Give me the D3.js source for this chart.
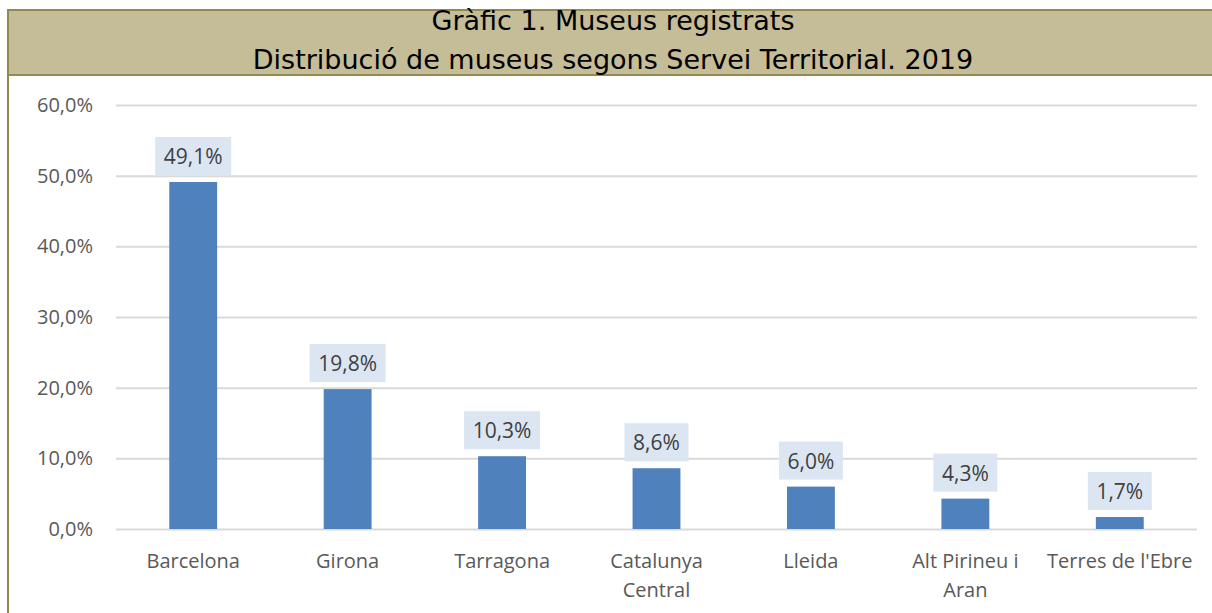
<!DOCTYPE html>
<meta charset="utf-8">
<html>
<head>
    <style>
        body { margin: 0; background: #fff; }
        .tick text { font: 20px "Open Sans", sans-serif; fill: #595959; }
        .grid line { stroke: #d9d9d9; stroke-width: 2px; }
        .title { font: 27px "DejaVu Sans", Verdana, sans-serif; fill: #000; }
        .label text { font: 21px "Open Sans", sans-serif; fill: #404040; }
    </style>
    <script src="https://d3js.org/d3.v7.min.js"></script>
</head>
<body>
<svg id="svg" width="1212" height="613"></svg>
<script>

    var categories = ["Barcelona", "Girona", "Tarragona", "Catalunya Central", "Lleida", "Alt Pirineu i Aran", "Terres de l'Ebre"];
    var catLines = [["Barcelona"], ["Girona"], ["Tarragona"], ["Catalunya", "Central"], ["Lleida"], ["Alt Pirineu i", "Aran"], ["Terres de l'Ebre"]];
    var values = [49.1, 19.8, 10.3, 8.6, 6.0, 4.3, 1.7];
    var yTicks = [0, 10, 20, 30, 40, 50, 60];
    var titleLines = ["Gràfic 1. Museus registrats", "Distribució de museus segons Servei Territorial. 2019"];

    var svg = d3.select("svg");
    var fmt = function (v) { return v.toFixed(1).replace(".", ",") + "%"; };

    // frame + header
    svg.append("rect").attr("x", 8).attr("y", 10).attr("width", 1212).attr("height", 65)
        .attr("fill", "#c4bd97").attr("stroke", "#938953").attr("stroke-width", 2);
    svg.append("line").attr("x1", 8).attr("x2", 8).attr("y1", 10).attr("y2", 613)
        .attr("stroke", "#938953").attr("stroke-width", 2);

    svg.selectAll(".title").data(titleLines).enter().append("text")
        .attr("class", "title")
        .attr("x", 613).attr("y", function (d, i) { return 30 + i * 39; })
        .attr("text-anchor", "middle")
        .text(function (d) { return d; });

    var x = d3.scaleBand().domain(categories).range([116, 1197]).paddingInner(0.69).paddingOuter(0.345);
    var y = d3.scaleLinear().domain([0, 60]).range([529, 105]);

    svg.append("g").attr("class", "grid")
        .attr("transform", "translate(116,0)")
        .call(d3.axisLeft(y).tickValues(yTicks).tickSize(-1081).tickFormat(""))
        .call(function (g) { g.select(".domain").remove(); });

    svg.append("g")
        .attr("transform", "translate(96,0)")
        .call(d3.axisLeft(y).tickValues(yTicks).tickSize(0).tickFormat(fmt))
        .call(function (g) { g.select(".domain").remove(); });

    svg.selectAll(".bar").data(values).enter().append("rect")
        .attr("class", "bar")
        .attr("x", function (d, i) { return x(categories[i]); })
        .attr("width", x.bandwidth())
        .attr("y", function (d) { return y(d); })
        .attr("height", function (d) { return y(0) - y(d); })
        .attr("fill", "#4f81bd");

    var lab = svg.selectAll(".label").data(values).enter().append("g")
        .attr("class", "label")
        .attr("transform", function (d, i) {
            return "translate(" + (x(categories[i]) + x.bandwidth() / 2) + "," + (y(d) - 7) + ")";
        });
    lab.append("rect").attr("x", function (d) { return d >= 10 ? -38 : -32; })
        .attr("width", function (d) { return d >= 10 ? 76 : 64; })
        .attr("y", -38).attr("height", 38).attr("fill", "#dce6f2");
    lab.append("text").attr("text-anchor", "middle").attr("y", -11).text(fmt);

    var xl = svg.selectAll(".xlab").data(catLines).enter().append("text")
        .attr("class", "tick")
        .attr("text-anchor", "middle")
        .attr("transform", function (d, i) {
            return "translate(" + (x(categories[i]) + x.bandwidth() / 2) + ",568)";
        })
        .style("font", "20px 'Open Sans', sans-serif").style("fill", "#595959");
    xl.selectAll("tspan").data(function (d) { return d; }).enter().append("tspan")
        .attr("x", 0).attr("dy", function (d, i) { return i ? 29 : 0; })
        .text(function (d) { return d; });

</script>
</body>
</html>
